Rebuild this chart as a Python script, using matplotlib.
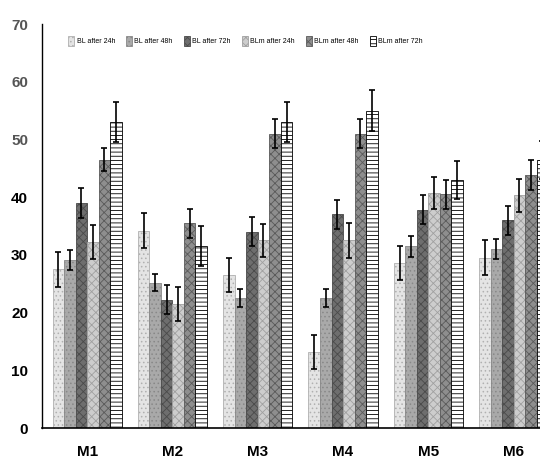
import matplotlib
matplotlib.use("Agg")
import matplotlib.pyplot as plt
import numpy as np

plt.rcParams['font.family'] = ['Liberation Sans', 'DejaVu Sans']
plt.rcParams['hatch.linewidth'] = 0.6

groups = ["M1", "M2", "M3", "M4", "M5", "M6"]
series = ["BL after 24h", "BL after 48h", "BL after 72h",
          "BLm after 24h", "BLm after 48h", "BLm after 72h"]
bl24 = [27.5, 34.2, 26.5, 13.2, 28.6, 29.5]
bl48 = [29.1, 25.2, 22.5, 22.5, 31.5, 31.0]
bl72 = [39.0, 22.2, 34.0, 37.0, 37.8, 36.0]
blm24 = [32.2, 21.5, 32.5, 32.5, 40.7, 40.3]
blm48 = [46.5, 35.5, 51.0, 51.0, 40.5, 43.8]
blm72 = [53.0, 31.5, 53.0, 55.0, 42.9, 46.5]
err_bl24 = [3.0, 3.0, 3.0, 3.0, 3.0, 3.0]
err_bl48 = [1.8, 1.5, 1.5, 1.5, 1.8, 1.8]
err_bl72 = [2.6, 2.5, 2.5, 2.5, 2.5, 2.5]
err_blm24 = [3.0, 3.0, 2.8, 3.0, 2.8, 2.8]
err_blm48 = [2.0, 2.5, 2.5, 2.5, 2.5, 2.6]
err_blm72 = [3.5, 3.5, 3.5, 3.5, 3.3, 3.3]

values = [bl24, bl48, bl72, blm24, blm48, blm72]
errors = [err_bl24, err_bl48, err_bl72, err_blm24, err_blm48, err_blm72]
faces = ["#e4e4e4", "#a9a9a9", "#6e6e6e", "#cdcdcd", "#8e8e8e", "#ffffff"]
hatches = ["....", "....", "xxxx", "xxxx", "xxxx", "----"]
hcolors = ["#b0b0b0", "#888888", "#4a4a4a", "#a0a0a0", "#5a5a5a", "#000000"]

fig = plt.figure(figsize=(5.4, 4.62), dpi=100)
ax = fig.add_axes([42/540, 34/462, 1 - 42/540, (428-24)/462])

x = np.arange(len(groups))
w = 0.135
for i, (vals, errs) in enumerate(zip(values, errors)):
    pos = x + (i - 2.5) * w
    ax.bar(pos, vals, w, color=faces[i], edgecolor=hcolors[i],
           hatch=hatches[i], linewidth=0.6, label=series[i], zorder=2)
    ax.errorbar(pos, vals, yerr=errs, fmt='none', ecolor='black',
                elinewidth=1.2, capsize=2, capthick=1.2, zorder=3)

ax.set_xlim(-0.53, 5.31)
ax.set_ylim(0, 70)
ax.set_yticks(range(0, 71, 10))
ax.set_xticks(x)
ax.set_xticklabels(groups, fontsize=11, fontweight='bold')
ax.tick_params(axis='both', length=0, labelsize=11)
ax.tick_params(axis='x', pad=12)
ax.tick_params(axis='y', pad=10)
for s in ['top', 'right']:
    ax.spines[s].set_visible(False)
ax.spines['left'].set_linewidth(1.0)
ax.spines['bottom'].set_linewidth(1.2)
for lbl in ax.get_yticklabels():
    lbl.set_fontweight('bold')
    if float(lbl.get_text()) >= 50:
        lbl.set_color('#555555')

ax.legend(loc='upper left', bbox_to_anchor=(0.04, 0.985), ncol=6, fontsize=5,
          frameon=False, handlelength=0.9, handleheight=1.8, columnspacing=1.6,
          handletextpad=0.3)

fig.savefig("out.png", dpi=100)
